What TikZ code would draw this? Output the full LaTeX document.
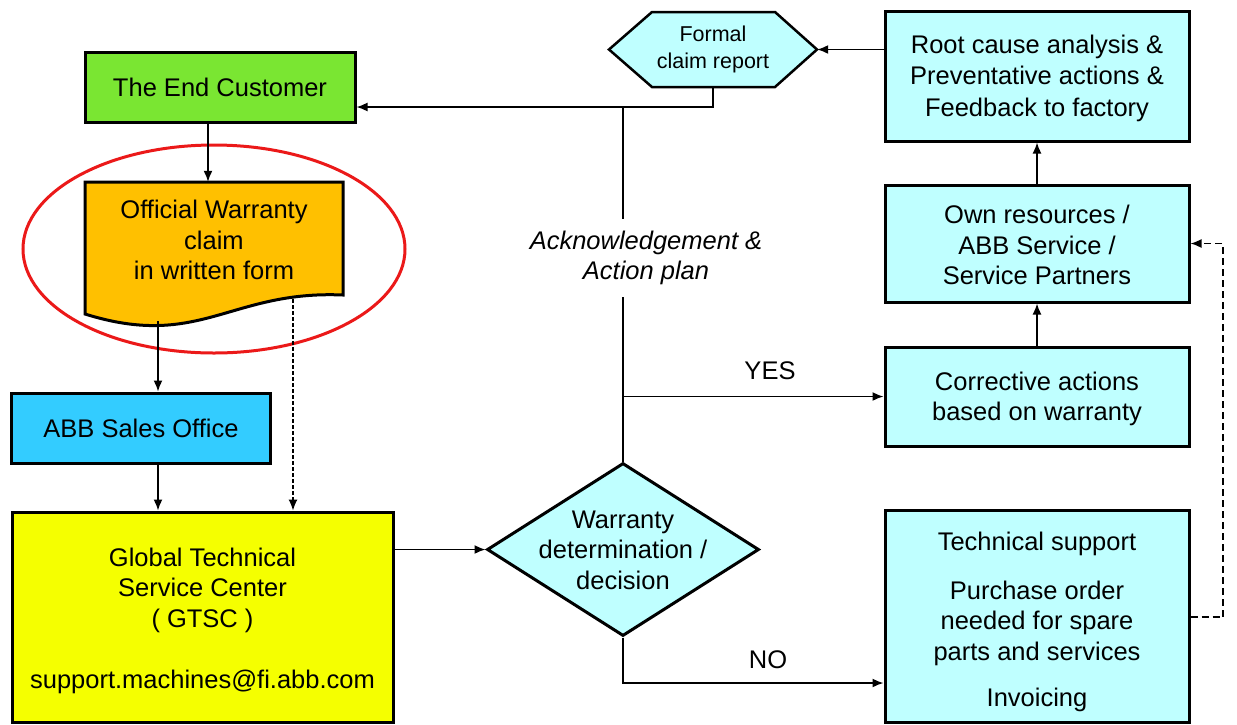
\documentclass[tikz,border=0pt]{standalone}
\usepackage{fontspec}
\setmainfont{Liberation Sans}
\usetikzlibrary{shapes.geometric,arrows.meta}
\definecolor{cgreen}{RGB}{122,230,50}
\definecolor{corange}{RGB}{255,192,0}
\definecolor{cblue}{RGB}{51,204,255}
\definecolor{cyellow}{RGB}{245,255,0}
\definecolor{ccyan}{RGB}{191,255,255}
\definecolor{cred}{RGB}{235,25,25}
\begin{document}
\begin{tikzpicture}[x=1pt,y=-1pt,
  txt/.style={align=center,font=\fontsize{25.5}{30.5}\selectfont},
  box/.style={txt,draw=black,line width=3pt,inner sep=0pt},
  small/.style={align=center,font=\fontsize{21.5}{26.5}\selectfont},
  conn/.style={line width=1.6pt,-{Latex[length=11pt,width=9pt]}},
  plain/.style={line width=1.6pt},
  dashconn/.style={conn,dash pattern=on 7pt off 4pt},
  fineconn/.style={conn,line width=1.2pt,dash pattern=on 4pt off 2pt}]
\useasboundingbox (0,0) rectangle (1237,724);

% left column
\node[box,fill=cgreen,minimum width=270pt,minimum height=70pt] (cust) at (220,87) {The End Customer};
\draw[fill=corange,line width=3pt] (85,182) -- (343,182) -- (343,295) .. controls (230,290) and (200,350) .. (85,314) -- cycle;
\node[inner sep=0pt,minimum width=258pt,minimum height=133pt] (claim) at (214,248.5) {};
\node[txt] (claimtxt) at (214,240) {Official Warranty\\claim\\in written form};
\node[draw=cred,line width=3pt,ellipse,inner sep=0pt,minimum width=382pt,minimum height=208pt] (ring) at (214,249) {};
\node[box,fill=cblue,minimum width=259pt,minimum height=70pt] (sales) at (141,428) {ABB Sales Office};
\node[box,fill=cyellow,minimum width=381pt,minimum height=210pt] (gtsc) at (202.5,617) {};
\node[txt] (gtsctxt) at (202.5,621) {Global Technical\\Service Center\\( GTSC )\\[31pt]support.machines@fi.abb.com};

% decision
\node[draw=black,line width=3pt,fill=ccyan,diamond,inner sep=0pt,minimum width=272pt,minimum height=173pt] (dec) at (623,549.5) {};
\node[txt] (dectxt) at (623,550) {Warranty\\determination /\\decision};

% report hexagon
\draw[fill=ccyan,line width=2.5pt] (609,49.5) -- (652,12) -- (775,12) -- (817,49.5) -- (775,87) -- (652,87) -- cycle;
\node[small,inner sep=0pt,minimum width=208pt,minimum height=75pt] (rep) at (713,49.5) {Formal\\claim report};

% right column
\node[box,fill=ccyan,minimum width=304pt,minimum height=130pt] (root) at (1037,76) {};
\node[txt,font=\fontsize{25.5}{31.5}\selectfont] (roottxt) at (1037,78) {Root cause analysis \&\\Preventative actions \&\\Feedback to factory};
\node[box,fill=ccyan,minimum width=304pt,minimum height=117pt] (own) at (1037,243.5) {};
\node[txt] (owntxt) at (1037,245) {Own resources /\\ABB Service /\\Service Partners};
\node[box,fill=ccyan,minimum width=304pt,minimum height=99pt] (corr) at (1037,396.5) {};
\node[txt] (corrtxt) at (1037,399) {Corrective actions\\based on warranty};
\node[box,fill=ccyan,minimum width=304pt,minimum height=212pt] (tech) at (1037,616) {};
\node[txt] (techtxt) at (1037,622) {Technical support\\[18pt]Purchase order\\needed for spare\\parts and services\\[16pt]Invoicing};

% labels
\node[txt,font=\fontsize{25.5}{30.5}\selectfont\itshape,inner ysep=12pt] (ack) at (646,258) {Acknowledgement \&\\Action plan};
\node[txt] (yes) at (770,371) {YES};
\node[txt] (no) at (768,660) {NO};

% helper coordinates
\coordinate (ca) at (208,0);
\coordinate (cb) at (158,321);
\coordinate (cd) at (293,299);
\coordinate (j) at (623,107);
\coordinate (nk) at (623,683);
\coordinate (dr) at (1223,617);

% connectors
\draw[conn] (cust.south -| ca) -- (claim.north -| ca);
\draw[conn] (cb) -- (cb |- sales.north);
\draw[fineconn] (cd) -- (cd |- gtsc.north);
\draw[conn] (sales.south -| cb) -- (cb |- gtsc.north);
\draw[conn] (gtsc.east |- dec.west) -- (dec.west);
\draw[conn] (rep.south) -- (rep.south |- j) -- (cust.east |- j);
\draw[plain] (j) -- (ack.north -| j);
\draw[plain] (ack.south -| j) -- (dec.north);
\draw[conn] (dec.north |- corr.west) -- (corr.west);
\draw[conn] (dec.south) -- (nk) -- (tech.west |- nk);
\draw[conn] (corr.north) -- (own.south);
\draw[conn] (own.north) -- (root.south);
\draw[conn] (root.west |- rep.east) -- (rep.east);
\draw[dashconn] (tech.east |- dr) -- (dr) -- (dr |- own.east) -- (own.east);
\end{tikzpicture}
\end{document}
